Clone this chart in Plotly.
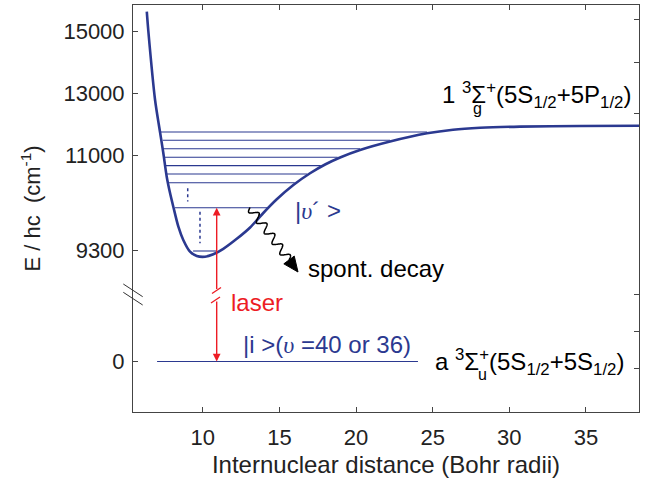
import numpy as np
import plotly.graph_objects as go

# ---------------- data ----------------
# upper potential curve 1 3Sigma_g+ (R in Bohr radii, E in cm^-1)
CURVE_R = [6.35, 6.45, 6.89, 7.21, 7.43, 7.65, 7.87, 8.08, 8.41, 8.73, 9.17, 9.61, 10.15,
           10.69, 11.34, 12.22, 13.09, 13.95, 14.83, 15.91, 17.00, 17.98, 18.96,
           20.26, 22.22, 24.63, 26.33, 28.09, 30.70, 34.61, 38.52]
CURVE_E = [15623, 15000, 12774, 11752, 11055, 10612, 10315, 10075, 9717, 9479, 9270, 9193, 9180,
           9223, 9321, 9500, 9703, 9962, 10207, 10463, 10673, 10830, 10955,
           11161, 11435, 11700, 11816, 11877, 11916, 11935, 11945]

# vibrational levels drawn inside the well
LEVEL_E = [11742, 11474, 11203, 10959, 10809, 10660, 10504, 10057, 9282]
LEVEL_RMIN = [7.26, 7.39, 7.43, 7.50, 7.56, 7.65, 7.80, 8.19, 9.37]
LEVEL_RMAX = [24.63, 22.22, 20.26, 18.80, 17.70, 16.81, 16.00, 14.21, 10.87]

# dotted "more levels" marks
DOT_R = [9.02, 9.82]
DOT_E0 = [10405, 9986]
DOT_E1 = [10166, 9420]

# initial level |i>
GROUND_R = [7.02, 24.04]
GROUND_E = [0, 0]

# laser transition
LASER_R = 10.91
LASER_E_LOW = 0
LASER_E_HIGH = 10057

# axis ticks
X_TICKS = [10, 15, 20, 25, 30, 35]
Y_TICK_E = [0, 9300, 11000, 13000, 15000]
Y_TICK_TEXT = ["0", "9300", "11000", "13000", "15000"]

# ---------------- broken energy axis mapping ----------------
KNOT_E = [0, 9000, 11000, 15000]
KNOT_U = [50.5, 145.24, 257, 381]
U_MAX = 407


def to_u(E):
    E = np.asarray(E, dtype=float)
    u = np.interp(E, KNOT_E, KNOT_U)
    slope = (KNOT_U[-1] - KNOT_U[-2]) / (KNOT_E[-1] - KNOT_E[-2])
    return np.where(E > KNOT_E[-1], KNOT_U[-1] + (E - KNOT_E[-1]) * slope, u)


# plot-area geometry (pixels)
L, R_EDGE, T, B = 133, 639, 5, 412
W, H = 646, 483


def px(xp):
    return (xp - L) / (R_EDGE - L)


def py(yp):
    return (B - yp) / (B - T)


BLUE = "#2b3990"
RED = "#ed1c24"
AX = "#444444"
TXT = "#222222"
FONT = "Liberation Sans, Arial, sans-serif"

fig = go.Figure()

# levels
for e, r0, r1 in zip(LEVEL_E, LEVEL_RMIN, LEVEL_RMAX):
    fig.add_trace(go.Scatter(x=[r0, r1], y=to_u([e, e]), mode="lines",
                             line=dict(color=BLUE, width=1.1), hoverinfo="skip",
                             showlegend=False))

# dotted marks
for r, e0, e1 in zip(DOT_R, DOT_E0, DOT_E1):
    fig.add_trace(go.Scatter(x=[r, r], y=to_u([e0, e1]), mode="lines",
                             line=dict(color=BLUE, width=1.5, dash="dot"),
                             hoverinfo="skip", showlegend=False))

# ground level (attached to y2 which shares the same range)
fig.add_trace(go.Scatter(x=GROUND_R, y=to_u(GROUND_E), mode="lines", yaxis="y2",
                         line=dict(color=BLUE, width=1.1), hoverinfo="skip",
                         showlegend=False))

# potential curve
fig.add_trace(go.Scatter(x=CURVE_R, y=to_u(CURVE_E), mode="lines",
                         line=dict(color=BLUE, width=2.6, shape="spline", smoothing=0.8),
                         hoverinfo="skip", showlegend=False))

# ---------------- laser arrow with break ----------------
u_hi = float(to_u(LASER_E_HIGH))
u_lo = float(to_u(LASER_E_LOW))
u_brk_top = B - 290.5
u_brk_bot = B - 300.0
for head, tail in [(u_hi, u_brk_top), (u_lo, u_brk_bot)]:
    fig.add_annotation(x=LASER_R, y=head, ax=LASER_R, ay=tail, axref="x", ayref="y",
                       xref="x", yref="y", text="", showarrow=True, arrowhead=2,
                       arrowsize=1.1, arrowwidth=1.4, arrowcolor=RED, standoff=0,
                       startstandoff=0)

shapes = []
# break strokes on the laser arrow
for (x0, y0, x1, y1) in [(212.0, 293.5, 221.0, 287.5), (211.0, 303.0, 220.0, 297.0)]:
    shapes.append(dict(type="line", xref="paper", yref="paper",
                       x0=px(x0), y0=py(y0), x1=px(x1), y1=py(y1),
                       line=dict(color=RED, width=1.4)))
# axis break marks
for (x0, y0, x1, y1) in [(123.3, 284, 142.7, 296.7), (123.3, 292.3, 142.7, 305)]:
    shapes.append(dict(type="line", xref="paper", yref="paper",
                       x0=px(x0), y0=py(y0), x1=px(x1), y1=py(y1),
                       line=dict(color="#333333", width=1)))

# wavy spontaneous decay arrow
P0 = np.array([250.0, 207.5])
TIP = np.array([298.0, 272.0])
d = (TIP - P0) / np.linalg.norm(TIP - P0)
n = np.array([-d[1], d[0]])
BASE = TIP - 15 * d
t = np.linspace(0, 1, 200)
pts = P0[None, :] + (t[:, None] * (BASE - P0)[None, :]) + \
    (4.0 * np.sin(2 * np.pi * 5.0 * t))[:, None] * n[None, :]
path = "M " + " L ".join(f"{px(p[0]):.5f},{py(p[1]):.5f}" for p in pts)
shapes.append(dict(type="path", xref="paper", yref="paper", path=path,
                   line=dict(color="black", width=1.5)))
c1 = BASE + 6.5 * n
c2 = BASE - 6.5 * n
tri = (f"M {px(TIP[0]):.5f},{py(TIP[1]):.5f} L {px(c1[0]):.5f},{py(c1[1]):.5f} "
       f"L {px(c2[0]):.5f},{py(c2[1]):.5f} Z")
shapes.append(dict(type="path", xref="paper", yref="paper", path=tri,
                   fillcolor="black", line=dict(color="black", width=1)))

# ---------------- text labels ----------------
UPS = '<span style="font-family:Liberation Serif, serif"><i>υ</i></span>'


def label(xp, yp, text, color="black", size=24, xanchor="left"):
    fig.add_annotation(x=px(xp), y=py(yp), xref="paper", yref="paper", text=text,
                       showarrow=False, xanchor=xanchor, yanchor="middle",
                       font=dict(family=FONT, size=size, color=color))


label(293, 210, "|" + UPS + "´ >", color=BLUE, size=24)
label(306, 268, "spont. decay", size=24)
label(229, 302, "laser", color=RED, size=24)
label(241, 344, "|i >(" + UPS + " =40 or 36)", color=BLUE, size=24)
label(440, 95, "1 <sup>3</sup>Σ<sup>+</sup>(5S<sub>1/2</sub>+5P<sub>1/2</sub>)", size=24)
label(471, 108, "g", size=16)
label(433, 362, "a <sup>3</sup>Σ<sup>+</sup>(5S<sub>1/2</sub>+5S<sub>1/2</sub>)", size=24)
label(476, 374, "u", size=16)

fig.update_layout(
    width=W, height=H,
    margin=dict(l=L, r=W - R_EDGE, t=T, b=H - B, pad=0),
    paper_bgcolor="white", plot_bgcolor="white",
    font=dict(family=FONT, size=22, color=TXT),
    shapes=shapes,
    xaxis=dict(range=[5.45, 38.46], tickvals=X_TICKS, ticks="inside", ticklen=5,
               tickcolor=AX, showline=True, linecolor=AX, linewidth=1, mirror="ticks",
               showgrid=False, zeroline=False, ticklabelstandoff=6, automargin=False,
               tickfont=dict(size=22, color=TXT),
               title=dict(text="Internuclear distance (Bohr radii)",
                          font=dict(size=24, color=TXT), standoff=6)),
    yaxis=dict(range=[0, U_MAX], tickvals=list(to_u(Y_TICK_E)), ticktext=Y_TICK_TEXT,
               ticks="inside", ticklen=5, tickcolor=AX, showline=True, linecolor=AX,
               linewidth=1, mirror=True, showgrid=False, zeroline=False,
               ticklabelstandoff=3, automargin=False, tickfont=dict(size=22, color=TXT),
               title=dict(text="E / hc  (cm<sup>-1</sup>)",
                          font=dict(size=22, color=TXT), standoff=16)),
    yaxis2=dict(range=[0, U_MAX], overlaying="y", side="right",
                tickvals=[B - 368, B - 331, B - 294, B - 113, B - 62, B - 19],
                ticks="inside", ticklen=5, tickcolor=AX, showticklabels=False,
                showline=False, showgrid=False, zeroline=False, automargin=False),
)

fig.write_html("out.html", config={"displayModeBar": False},
               post_script="document.body.style.margin='0';")
